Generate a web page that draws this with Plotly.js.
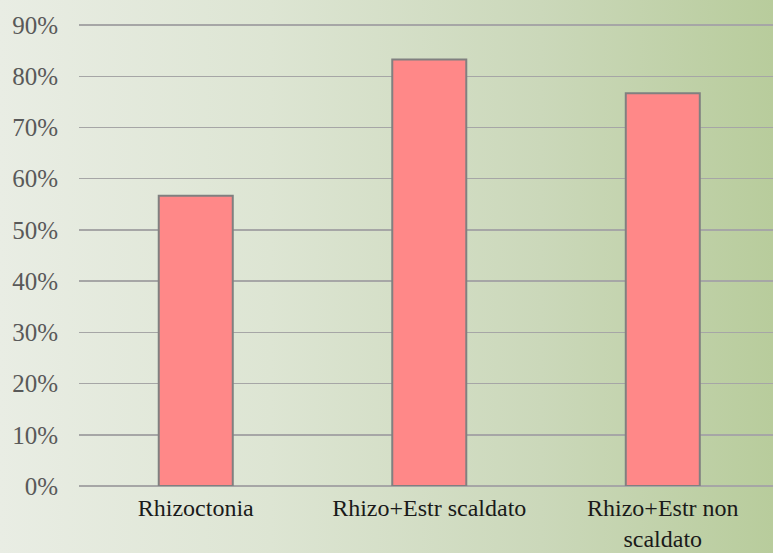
<!DOCTYPE html>
<html>
<head>
<meta charset="utf-8">
<script src="https://cdn.plot.ly/plotly-3.0.1.min.js"></script>
<style>
html,body{margin:0;padding:0;}
body{width:773px;height:553px;overflow:hidden;
background:linear-gradient(to right,#e9ede4 0%,#dde5d3 35%,#cbd8ba 70%,#b8cc9c 100%);}
#chart{width:773px;height:553px;}
</style>
</head>
<body>
<div id="chart"></div>
<script>
var categories = ["Rhizoctonia", "Rhizo+Estr scaldato", "Rhizo+Estr non<br>scaldato"];
var values = [0.567, 0.833, 0.767];
var tickVals = [0, 0.1, 0.2, 0.3, 0.4, 0.5, 0.6, 0.7, 0.8, 0.9];
var tickText = ["0%", "10%", "20%", "30%", "40%", "50%", "60%", "70%", "80%", "90%"];

var trace = {
  type: "bar",
  x: categories,
  y: values,
  marker: {color: "#ff8888", line: {color: "#808080", width: 2}},
  hoverinfo: "none"
};

var layout = {
  width: 773, height: 553,
  margin: {l: 79, r: 0, t: 0, b: 67},
  paper_bgcolor: "rgba(0,0,0,0)",
  plot_bgcolor: "rgba(0,0,0,0)",
  showlegend: false,
  bargap: 0.683,
  font: {family: "Liberation Serif, DejaVu Serif, serif"},
  xaxis: {
    range: [-0.5, 2.472],
    showgrid: false, showline: false, zeroline: false,
    ticks: "", ticklen: 0, ticklabelstandoff: 5,
    tickfont: {size: 24, color: "#1a1a1a"}
  },
  yaxis: {
    range: [0, 0.949],
    tickvals: tickVals, ticktext: tickText,
    showgrid: true, gridcolor: "#a6a6a6", gridwidth: 1.5,
    zeroline: true, zerolinecolor: "#a6a6a6", zerolinewidth: 1.5,
    showline: false, ticks: "", ticklabelstandoff: 20,
    tickfont: {size: 25, color: "#595959"}
  }
};

Plotly.newPlot("chart", [trace], layout, {displayModeBar: false, staticPlot: true});
</script>
</body>
</html>
